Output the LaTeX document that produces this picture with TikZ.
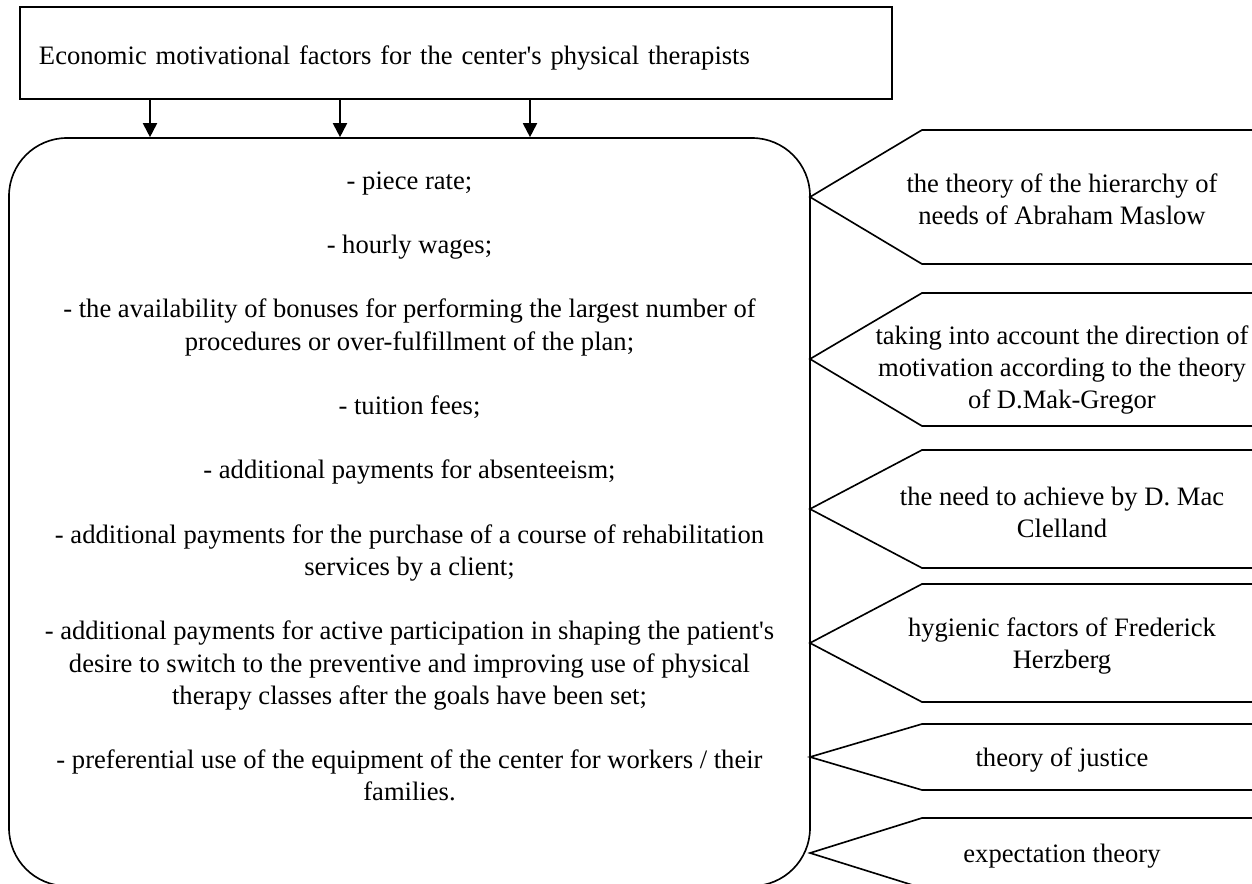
\documentclass[tikz,border=0pt]{standalone}
\usepackage{fontspec}
\setmainfont{Liberation Serif}
\usetikzlibrary{arrows.meta}

\newdimen\pxu
\pxu=0.4286pt

\begin{document}
\begin{tikzpicture}[x=0.4286pt, y=-0.4286pt,
		every node/.style={font=\fontsize{11.4}{13.8}\selectfont},
		titlebox/.style={draw, line width=0.8pt, minimum width=872\pxu, minimum height=92\pxu,
			text width=834\pxu, inner xsep=19\pxu, inner ysep=0pt, align=left,
			text height=12pt, text depth=2pt},
		factorbox/.style={draw, line width=0.7pt, rounded corners=58\pxu,
			minimum width=801\pxu, minimum height=748\pxu, inner sep=0pt},
		listtext/.style={align=center, inner sep=0pt},
		theory/.style={draw, line width=0.7pt},
		theorytext/.style={align=center, inner sep=0pt},
		link/.style={-{Triangle[width=6pt, length=6pt]}, line width=0.8pt}]
		\useasboundingbox (0,0) rectangle (1252,884);

		\node[titlebox] (title) at (456,53) {Economic motivational factors for the center\textquotesingle s physical therapists};
		\node[factorbox] (factors) at (409.5,512) {};
		\node[listtext, anchor=north] (list) at (409.5,171) {- piece rate;\\[13.8pt]
			- hourly wages;\\[13.8pt]
			- the availability of bonuses for performing the largest number of\\
			procedures or over-fulfillment of the plan;\\[13.8pt]
			- tuition fees;\\[13.8pt]
			- additional payments for absenteeism;\\[13.8pt]
			- additional payments for the purchase of a course of rehabilitation\\
			services by a client;\\[13.8pt]
			- additional payments for active participation in shaping the patient\textquotesingle s\\
			desire to switch to the preventive and improving use of physical\\
			therapy classes after the goals have been set;\\[13.8pt]
			- preferential use of the equipment of the center for workers / their\\
			families.};

		% arrows from the title into the list
		\coordinate (a1) at (150,0);
		\coordinate (a2) at (340,0);
		\coordinate (a3) at (530,0);
		\draw[link] (title.south -| a1) -- (factors.north -| a1);
		\draw[link] (title.south -| a2) -- (factors.north -| a2);
		\draw[link] (title.south -| a3) -- (factors.north -| a3);

		% theories on the right
		\draw[theory] (1312,130) -- (922,130) -- (810,197) -- (922,264) -- (1312,264) -- cycle;
		\draw[theory] (1312,293) -- (922,293) -- (810,359) -- (922,426) -- (1312,426) -- cycle;
		\draw[theory] (1312,450) -- (922,450) -- (810,509) -- (922,568) -- (1312,568) -- cycle;
		\draw[theory] (1312,584) -- (922,584) -- (810,643) -- (922,702) -- (1312,702) -- cycle;
		\draw[theory] (1312,724) -- (922,724) -- (810,757) -- (922,790) -- (1312,790) -- cycle;
		\draw[theory] (1312,818) -- (922,818) -- (810,853) -- (922,888) -- (1312,888) -- cycle;

		\node[theorytext] (maslow) at (1062,199) {the theory of the hierarchy of\\needs of Abraham Maslow};
		\node[theorytext] (makgregor) at (1062,370) {taking into account the direction of\\motivation according to the theory\\of D.Mak-Gregor};
		\node[theorytext] (clelland) at (1062,512) {the need to achieve by D. Mac\\Clelland};
		\node[theorytext] (herzberg) at (1062,646) {hygienic factors of Frederick\\Herzberg};
		\node[theorytext] (justice) at (1062,760) {theory of justice};
		\node[theorytext] (expect) at (1062,856) {expectation theory};
	\end{tikzpicture}
\end{document}
